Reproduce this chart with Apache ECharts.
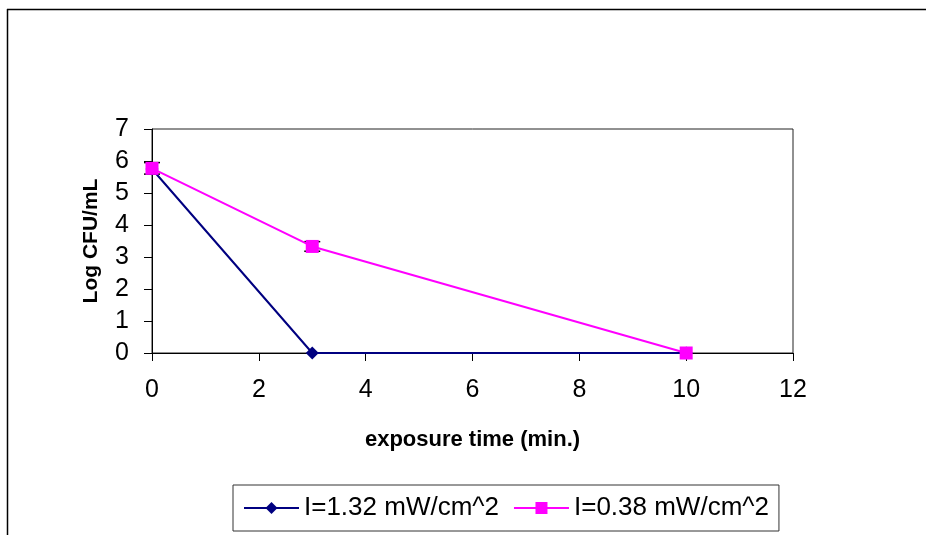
<!DOCTYPE html>
<html>
<head>
<meta charset="utf-8">
<script src="https://cdn.jsdelivr.net/npm/echarts@6/dist/echarts.min.js"></script>
<style>
  html, body { margin: 0; padding: 0; background: #fff; }
  #chart { width: 926px; height: 535px; }
</style>
</head>
<body>
<div id="chart"></div>
<script>
// exposure time (min.)
const times = [0, 3, 10];
const highName = "I=1.32 mW/cm^2";
const lowName = "I=0.38 mW/cm^2";
const highValues = [5.75, 0, 0];
const lowValues = [5.77, 3.33, 0];
// error bars: [x, y, err]
const errorBars = [
  [0, 5.77, 0.18],
  [3, 3.33, 0.15],
];

const chart = echarts.init(document.getElementById("chart"));

const toPairs = (vals) => times.map((t, i) => [t, vals[i]]);

const option = {
  backgroundColor: "#fff",
  animation: false,
  textStyle: { fontFamily: "Liberation Sans, Arial, sans-serif" },
  grid: {
    left: 152,
    right: 133,
    top: 129,
    bottom: 182,
    show: true,
    borderColor: "#222",
    borderWidth: 1,
  },
  legend: {
    left: 233,
    top: 485,
    padding: [10, 10, 10, 10],
    borderColor: "#333",
    borderWidth: 1,
    itemWidth: 55,
    itemHeight: 15,
    itemGap: 14,
    textStyle: { fontSize: 26, color: "#000" },
    data: [highName, lowName],
  },
  xAxis: {
    type: "value",
    min: 0,
    max: 12,
    interval: 2,
    name: "exposure time (min.)",
    nameLocation: "middle",
    nameGap: 76,
    nameTextStyle: { fontSize: 22, fontWeight: "bold", color: "#000" },
    axisLine: { lineStyle: { color: "#000", width: 1 } },
    axisTick: { length: 8, lineStyle: { color: "#000" } },
    axisLabel: { fontSize: 25, color: "#000", margin: 25 },
    splitLine: { show: false },
  },
  yAxis: {
    type: "value",
    min: 0,
    max: 7,
    interval: 1,
    name: "Log CFU/mL",
    nameLocation: "middle",
    nameGap: 50,
    nameTextStyle: { fontSize: 21, fontWeight: "bold", color: "#000" },
    axisLine: { show: true, lineStyle: { color: "#000", width: 1 } },
    axisTick: { show: true, length: 8, lineStyle: { color: "#000" } },
    axisLabel: { fontSize: 25, color: "#000", margin: 23 },
    splitLine: { show: false },
  },
  graphic: [
    { type: "line", shape: { x1: 7, y1: 9.5, x2: 926, y2: 9.5 }, style: { stroke: "#000", lineWidth: 1.5 } },
    { type: "line", shape: { x1: 7.5, y1: 9, x2: 7.5, y2: 535 }, style: { stroke: "#000", lineWidth: 1.5 } },
  ],
  series: [
    {
      type: "custom",
      name: "err",
      z: 1,
      silent: true,
      data: errorBars,
      renderItem: (params, api) => {
        const x = api.value(0), y = api.value(1), e = api.value(2);
        const lo = api.coord([x, y - e]);
        const hi = api.coord([x, y + e]);
        const w = 8;
        const st = { stroke: "#000", lineWidth: 1.5 };
        return {
          type: "group",
          children: [
            { type: "line", shape: { x1: lo[0], y1: lo[1], x2: hi[0], y2: hi[1] }, style: st },
            { type: "line", shape: { x1: lo[0] - w, y1: lo[1], x2: lo[0] + w, y2: lo[1] }, style: st },
            { type: "line", shape: { x1: hi[0] - w, y1: hi[1], x2: hi[0] + w, y2: hi[1] }, style: st },
          ],
        };
      },
    },
    {
      name: highName,
      type: "line",
      z: 3,
      data: toPairs(highValues),
      symbol: "diamond",
      symbolSize: 13,
      color: "#000080",
      lineStyle: { width: 2, color: "#000080" },
      itemStyle: { color: "#000080" },
    },
    {
      name: lowName,
      type: "line",
      z: 4,
      data: toPairs(lowValues),
      symbol: "rect",
      symbolSize: 13,
      color: "#ff00ff",
      lineStyle: { width: 2, color: "#ff00ff" },
      itemStyle: { color: "#ff00ff" },
    },
  ],
};

chart.setOption(option);
</script>
</body>
</html>
